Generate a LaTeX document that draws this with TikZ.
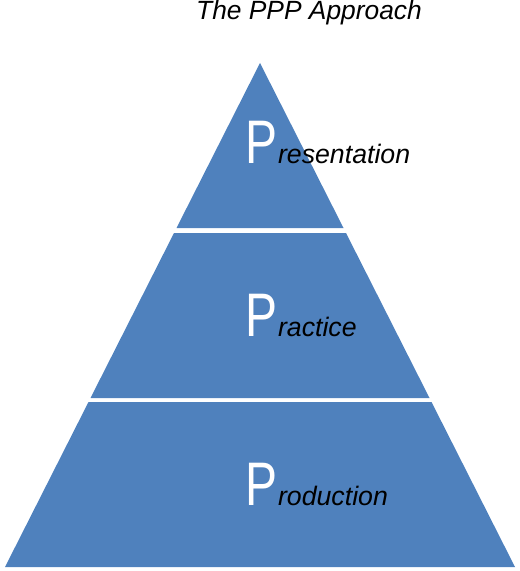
\documentclass[tikz,border=0pt]{standalone}
\usepackage{fontspec}
\usepackage{graphicx}
\setmainfont{Liberation Sans}
\definecolor{pyrblue}{RGB}{79,129,189}
\tikzset{
  bigp/.style={inner sep=0pt, anchor=base west, text=white, font=\fontsize{35}{35}\selectfont},
  rest/.style={inner sep=0pt, anchor=base west, text=black, font=\fontsize{15.2}{16}\selectfont\itshape},
  band/.style={fill=pyrblue, draw=none}
}
\begin{document}
\begin{tikzpicture}[x=0.02cm,y=-0.02cm]
    \useasboundingbox (0,0) rectangle (520,571);
    % title
    \node [inner sep=0pt, anchor=base, font=\fontsize{15}{16}\selectfont\itshape] (title) at (309,20) {The PPP Approach};
    % pyramid bands
    \fill [band] (260,63) -- (343.5,228) -- (176.5,228) -- cycle;
    \fill [band] (174,233) -- (346,233) -- (429.5,398) -- (90.5,398) -- cycle;
    \fill [band] (88.5,402) -- (431.5,402) -- (515,567) -- (5,567) -- cycle;
    % labels
    \node [bigp] (p1) at (245,163) {\scalebox{0.78}[1]{P}};
    \node [rest] (r1) at (p1.base east) {resentation};
    \node [bigp] (p2) at (245,336) {\scalebox{0.78}[1]{P}};
    \node [rest] (r2) at (p2.base east) {ractice};
    \node [bigp] (p3) at (245,505) {\scalebox{0.78}[1]{P}};
    \node [rest] (r3) at (p3.base east) {roduction};
\end{tikzpicture}
\end{document}
